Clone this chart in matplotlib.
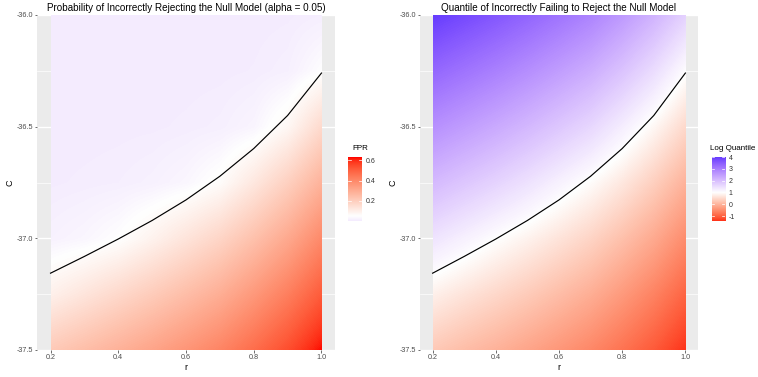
import numpy as np
import matplotlib
matplotlib.use("Agg")
import matplotlib.pyplot as plt
from matplotlib.colors import ListedColormap, Normalize, TwoSlopeNorm, to_rgb
from matplotlib.patches import Rectangle

plt.rcParams['font.family'] = ['Liberation Sans', 'DejaVu Sans']

# ---------------- data ----------------
r_vals = [0.2, 0.3, 0.4, 0.5, 0.6, 0.7, 0.8, 0.9, 1.0]
c_vals = [-37.5, -37.25, -37.0, -36.75, -36.5, -36.25, -36.0]

# FPR (rows = c_vals, cols = r_vals)
fpr_row_375 = [0.212, 0.247, 0.284, 0.323, 0.366, 0.412, 0.473, 0.544, 0.633]
fpr_row_3725 = [0.094, 0.129, 0.166, 0.205, 0.248, 0.294, 0.356, 0.427, 0.515]
fpr_row_370 = [0.018, 0.029, 0.049, 0.088, 0.131, 0.177, 0.238, 0.309, 0.398]
fpr_row_3675 = [0.003, 0.006, 0.009, 0.016, 0.030, 0.059, 0.121, 0.192, 0.280]
fpr_row_365 = [0.001, 0.001, 0.002, 0.003, 0.006, 0.011, 0.026, 0.074, 0.163]
fpr_row_3625 = [0.000, 0.000, 0.000, 0.001, 0.001, 0.002, 0.005, 0.013, 0.047]
fpr_row_360 = [0.000, 0.000, 0.000, 0.000, 0.000, 0.001, 0.001, 0.003, 0.009]

# Log quantile (rows = c_vals, cols = r_vals)
lq_row_375 = [0.27, 0.11, -0.04, -0.21, -0.39, -0.58, -0.82, -1.09, -1.42]
lq_row_3725 = [0.80, 0.63, 0.47, 0.30, 0.11, -0.09, -0.35, -0.64, -0.98]
lq_row_370 = [1.41, 1.21, 1.01, 0.83, 0.63, 0.42, 0.15, -0.15, -0.52]
lq_row_3675 = [2.06, 1.86, 1.66, 1.44, 1.20, 0.96, 0.68, 0.35, -0.03]
lq_row_365 = [2.71, 2.51, 2.31, 2.09, 1.85, 1.60, 1.26, 0.89, 0.48]
lq_row_3625 = [3.36, 3.16, 2.96, 2.74, 2.50, 2.25, 1.91, 1.51, 1.03]
lq_row_360 = [4.01, 3.81, 3.61, 3.39, 3.15, 2.90, 2.56, 2.16, 1.68]

# boundary (contour) line
boundary_r = [0.2, 0.3, 0.4, 0.5, 0.6, 0.7, 0.8, 0.9, 1.0]
boundary_c = [-37.156, -37.081, -37.003, -36.920, -36.828, -36.722, -36.598, -36.450, -36.260]

x_ticks = [0.2, 0.4, 0.6, 0.8, 1.0]
x_tick_labels = ['0.2', '0.4', '0.6', '0.8', '1.0']
y_ticks = [-37.5, -37.0, -36.5, -36.0]
y_tick_labels = ['-37.5', '-37.0', '-36.5', '-36.0']
y_minor = [-37.25, -36.75, -36.25]
fpr_ticks = [0.2, 0.4, 0.6]
fpr_tick_labels = ['0.2', '0.4', '0.6']
lq_ticks = [-1, 0, 1, 2, 3, 4]
lq_tick_labels = ['-1', '0', '1', '2', '3', '4']

title_left = 'Probability of Incorrectly Rejecting the Null Model (alpha = 0.05)'
title_right = 'Quantile of Incorrectly Failing to Reject the Null Model'

FPR = np.array([fpr_row_375, fpr_row_3725, fpr_row_370, fpr_row_3675,
                fpr_row_365, fpr_row_3625, fpr_row_360])
LQ = np.array([lq_row_375, lq_row_3725, lq_row_370, lq_row_3675,
               lq_row_365, lq_row_3625, lq_row_360])

# ---------------- Lab-space colour ramps (like ggplot's gradient2) ----------------
M = np.array([[0.4124, 0.3576, 0.1805],
              [0.2126, 0.7152, 0.0722],
              [0.0193, 0.1192, 0.9505]])
WHITE = np.array([0.95047, 1.0, 1.08883])


def srgb_to_lab(c):
    c = np.asarray(c, float)
    lin = np.where(c <= 0.04045, c / 12.92, ((c + 0.055) / 1.055) ** 2.4)
    xyz = (M @ lin) / WHITE
    f = np.where(xyz > 0.008856, np.cbrt(xyz), 7.787 * xyz + 16 / 116)
    return np.array([116 * f[1] - 16, 500 * (f[0] - f[1]), 200 * (f[1] - f[2])])


def lab_to_srgb(lab):
    L, a, b = lab
    fy_ = (L + 16) / 116
    f = np.array([fy_ + a / 500, fy_, fy_ - b / 200])
    xyz = np.where(f ** 3 > 0.008856, f ** 3, (f - 16 / 116) / 7.787) * WHITE
    lin = np.clip(np.linalg.inv(M) @ xyz, 0, 1)
    s = np.where(lin <= 0.0031308, 12.92 * lin, 1.055 * lin ** (1 / 2.4) - 0.055)
    return np.clip(s, 0, 1)


def diverging(low, mid, high, n=256):
    labs = [srgb_to_lab(to_rgb(c)) for c in (low, mid, high)]
    cols = []
    for t in np.linspace(0, 1, n):
        if t < 0.5:
            s = t / 0.5
            lab = labs[0] * (1 - s) + labs[1] * s
        else:
            s = (t - 0.5) / 0.5
            lab = labs[1] * (1 - s) + labs[2] * s
        cols.append(lab_to_srgb(lab))
    return ListedColormap(cols)


cmap_fpr = diverging('blue', 'white', 'red')
cmap_lq = diverging('red', 'white', 'blue')
fpr_mid = 0.05
fpr_span = FPR.max() - fpr_mid
norm_fpr = Normalize(vmin=fpr_mid - fpr_span, vmax=fpr_mid + fpr_span)
lq_mid = 1.0
norm_lq = TwoSlopeNorm(vcenter=lq_mid, vmin=lq_mid - 2.6, vmax=lq_mid + 3.6)

# ---------------- figure ----------------
W, H = 758, 377
fig = plt.figure(figsize=(W / 100, H / 100), dpi=100)


def fx(px):
    return px / W


def fy(py):
    return 1 - py / H


def panel(rect, Z, cmap, norm, title):
    ax = fig.add_axes(rect)
    ax.set_facecolor('#EBEBEB')
    r = np.array(r_vals)
    c = np.array(c_vals)
    dr = r[1] - r[0]
    dc = c[1] - c[0]
    for y in y_ticks:
        ax.axhline(y, color='white', lw=1.0, zorder=0.5)
    for y in y_minor:
        ax.axhline(y, color='white', lw=0.5, zorder=0.5)
    im = ax.imshow(Z, origin='lower', cmap=cmap, norm=norm, aspect='auto',
                   extent=[r[0] - dr / 2, r[-1] + dr / 2, c[0] - dc / 2, c[-1] + dc / 2],
                   interpolation='bilinear', interpolation_stage='data', zorder=1)
    im.set_clip_path(Rectangle((r[0], c[0]), r[-1] - r[0], c[-1] - c[0],
                               transform=ax.transData))
    ax.plot(boundary_r, boundary_c, color='black', lw=0.85, zorder=2)
    ax.set_xlim(0.16, 1.04)
    ax.set_ylim(-37.5, -36.0)
    ax.set_xticks(x_ticks)
    ax.set_xticklabels(x_tick_labels)
    ax.set_yticks(y_ticks)
    ax.set_yticklabels(y_tick_labels)
    ax.tick_params(length=1.8, width=0.5, color='#333333', labelsize=5.2,
                   labelcolor='#4D4D4D', pad=1.2)
    for s in ax.spines.values():
        s.set_visible(False)
    ax.set_title(title, fontsize=7.1, pad=3.2, color='black')
    ax.set_xlabel('r', fontsize=6.5, labelpad=1.0)
    ax.set_ylabel('C', fontsize=6.5, labelpad=1.5)
    return ax


def colorbar(rect, Z, cmap, norm, ticks, labels, title, tx):
    cax = fig.add_axes(rect)
    lo, hi = float(Z.min()), float(Z.max())
    grad = np.linspace(lo, hi, 300).reshape(-1, 1)
    cax.imshow(grad, origin='lower', extent=[0, 1, lo, hi], aspect='auto',
               cmap=cmap, norm=norm, interpolation='bilinear')
    cax.set_xlim(0, 1)
    cax.set_ylim(lo, hi)
    cax.set_xticks([])
    cax.yaxis.tick_right()
    cax.set_yticks(ticks)
    cax.set_yticklabels(labels)
    cax.tick_params(axis='y', length=0, labelsize=5.0, labelcolor='#333333', pad=2.5)
    for s in cax.spines.values():
        s.set_visible(False)
    for t in ticks:
        cax.plot([0, 0.2], [t, t], color='white', lw=0.5)
        cax.plot([0.8, 1], [t, t], color='white', lw=0.5)
    fig.text(tx, fy(150.5), title, fontsize=5.8, ha='left', va='baseline')


panel([fx(37), fy(350), fx(298), 335 / H], FPR, cmap_fpr, norm_fpr, title_left)
panel([fx(420), fy(350), fx(278), 335 / H], LQ, cmap_lq, norm_lq, title_right)
colorbar([fx(348), fy(221), fx(14), 64 / H], FPR, cmap_fpr, norm_fpr,
         fpr_ticks, fpr_tick_labels, 'FPR', fx(352))
colorbar([fx(711.5), fy(221), fx(13.5), 64 / H], LQ, cmap_lq, norm_lq,
         lq_ticks, lq_tick_labels, 'Log Quantile', fx(710.5))

fig.savefig('out.png', dpi=100)
